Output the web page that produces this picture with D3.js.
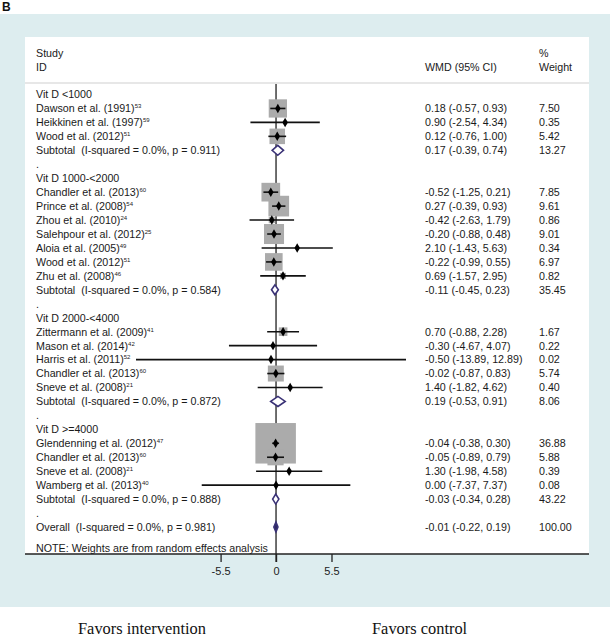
<!DOCTYPE html>
<html>
<head>
<meta charset="utf-8">
<script src="https://cdn.jsdelivr.net/npm/d3@7"></script>
<style>
  body { margin: 0; background: #fff; }
  svg text { white-space: pre; }
</style>
</head>
<body>
<svg id="chart" width="610" height="640"></svg>
<script>
// ---------------- data ----------------
const groupLabels = ["Vit D <1000", "Vit D 1000-<2000", "Vit D 2000-<4000", "Vit D >=4000"];

const studyNames = [
  "Dawson et al. (1991)", "Heikkinen et al. (1997)", "Wood et al. (2012)",
  "Chandler et al. (2013)", "Prince et al. (2008)", "Zhou et al. (2010)", "Salehpour et al. (2012)",
  "Aloia et al. (2005)", "Wood et al. (2012)", "Zhu et al. (2008)",
  "Zittermann et al. (2009)", "Mason et al. (2014)", "Harris et al. (2011)", "Chandler et al. (2013)", "Sneve et al. (2008)",
  "Glendenning et al. (2012)", "Chandler et al. (2013)", "Sneve et al. (2008)", "Wamberg et al. (2013)"
];
const studyRefs  = ["53","59","51", "60","54","24","25","49","51","46", "41","42","52","60","21", "47","60","21","40"];
const studyGroup = [0,0,0, 1,1,1,1,1,1,1, 2,2,2,2,2, 3,3,3,3];
const studyEst   = [0.18, 0.90, 0.12, -0.52, 0.27, -0.42, -0.20, 2.10, -0.22, 0.69, 0.70, -0.30, -0.50, -0.02, 1.40, -0.04, -0.05, 1.30, 0.00];
const studyLo    = [-0.57, -2.54, -0.76, -1.25, -0.39, -2.63, -0.88, -1.43, -0.99, -1.57, -0.88, -4.67, -13.89, -0.87, -1.82, -0.38, -0.89, -1.98, -7.37];
const studyHi    = [0.93, 4.34, 1.00, 0.21, 0.93, 1.79, 0.48, 5.63, 0.55, 2.95, 2.28, 4.07, 12.89, 0.83, 4.62, 0.30, 0.79, 4.58, 7.37];
const studyWeight= [7.50, 0.35, 5.42, 7.85, 9.61, 0.86, 9.01, 0.34, 6.97, 0.82, 1.67, 0.22, 0.02, 5.74, 0.40, 36.88, 5.88, 0.39, 0.08];

const subP      = ["0.911", "0.584", "0.872", "0.888"];
const subEst    = [0.17, -0.11, 0.19, -0.03];
const subLo     = [-0.39, -0.45, -0.53, -0.34];
const subHi     = [0.74, 0.23, 0.91, 0.28];
const subWeight = [13.27, 35.45, 8.06, 43.22];

const overallP = "0.981";
const overallEst = -0.01, overallLo = -0.22, overallHi = 0.19, overallWeight = 100.00;

const tickValues = [-5.5, 0, 5.5];
const noteText = "NOTE: Weights are from random effects analysis";

// ---------------- build rows ----------------
const fmt = v => d3.format(".2f")(v).replace("\u2212", "-");
const rows = [];
groupLabels.forEach((g, gi) => {
  rows.push({type: "group", label: g});
  studyNames.forEach((n, i) => {
    if (studyGroup[i] !== gi) return;
    rows.push({type: "study", label: n, ref: studyRefs[i], est: studyEst[i], lo: studyLo[i], hi: studyHi[i], w: studyWeight[i]});
  });
  rows.push({type: "sub", label: "Subtotal  (I-squared = 0.0%, p = " + subP[gi] + ")", est: subEst[gi], lo: subLo[gi], hi: subHi[gi], w: subWeight[gi]});
  rows.push({type: "dot", label: "."});
});
rows.push({type: "overall", label: "Overall  (I-squared = 0.0%, p = " + overallP + ")", est: overallEst, lo: overallLo, hi: overallHi, w: overallWeight});

// ---------------- layout ----------------
const svg = d3.select("#chart");
const W = 610, H = 640;
const panel = {x0: 25, x1: 589, y0: 37, y1: 554};
const fontMain = "'Liberation Sans', Arial, Helvetica, sans-serif";
const fs = 10.7;

const x = d3.scaleLinear().domain([-13.89, 12.89]).range([136, 406]);
const y = d3.scaleLinear().domain([0, rows.length - 1]).range([94.5, 527]);
const boxSide = d3.scaleSqrt().domain([0, 100]).range([0, 66.7]);

// background
svg.append("rect").attr("x", 0).attr("y", 14).attr("width", W).attr("height", 593).attr("fill", "#ddedef");
svg.append("rect").attr("x", panel.x0).attr("y", panel.y0).attr("width", panel.x1 - panel.x0).attr("height", panel.y1 - panel.y0).attr("fill", "#ffffff");

svg.append("text").attr("x", 2).attr("y", 11).text("B")
  .attr("font-family", fontMain).attr("font-weight", "bold").attr("font-size", 12).attr("fill", "#111");

// header
const hdr = svg.append("g").attr("font-family", fontMain).attr("font-size", fs).attr("fill", "#1a1a1a");
hdr.append("text").attr("x", 36).attr("y", 57).text("Study");
hdr.append("text").attr("x", 36).attr("y", 71).text("ID");
hdr.append("text").attr("x", 425).attr("y", 71).text("WMD (95% CI)");
hdr.append("text").attr("x", 539).attr("y", 57).text("%");
hdr.append("text").attr("x", 539).attr("y", 71).text("Weight");
svg.append("line").attr("x1", panel.x0).attr("x2", panel.x1).attr("y1", 83).attr("y2", 83)
  .attr("stroke", "#cfcfcf").attr("stroke-width", 1);

// zero line
svg.append("line").attr("x1", x(0)).attr("x2", x(0)).attr("y1", 84).attr("y2", 562)
  .attr("stroke", "#4a4a4a").attr("stroke-width", 1.6);

const effectRows = rows.map((r, i) => Object.assign({i}, r));
const studies = effectRows.filter(r => r.type === "study");
const diamonds = effectRows.filter(r => r.type === "sub" || r.type === "overall");

// boxes
svg.append("g").selectAll("rect").data(studies).join("rect")
  .attr("x", d => x(d.est) - boxSide(d.w) / 2)
  .attr("y", d => y(d.i) - boxSide(d.w) / 2)
  .attr("width", d => boxSide(d.w))
  .attr("height", d => boxSide(d.w))
  .attr("fill", "#ababab");

// CI lines
svg.append("g").selectAll("line").data(studies).join("line")
  .attr("x1", d => x(d.lo)).attr("x2", d => x(d.hi))
  .attr("y1", d => y(d.i)).attr("y2", d => y(d.i))
  .attr("stroke", "#111").attr("stroke-width", 1.6);

// point estimates
svg.append("g").selectAll("path").data(studies).join("path")
  .attr("d", d3.symbol(d3.symbolDiamond, 26))
  .attr("transform", d => `translate(${x(d.est)},${y(d.i)})`)
  .attr("fill", "#000");

// diamonds
svg.append("g").selectAll("path").data(diamonds).join("path")
  .attr("d", d => {
    const cy = y(d.i), h = 5;
    return `M${x(d.lo)},${cy} L${x(d.est)},${cy - h} L${x(d.hi)},${cy} L${x(d.est)},${cy + h} Z`;
  })
  .attr("fill", d => d.type === "overall" ? "#2f2a66" : "#fff")
  .attr("stroke", "#3a3276").attr("stroke-width", 1.6);

// left labels
const lab = svg.append("g").attr("font-family", fontMain).attr("font-size", fs).attr("fill", "#1a1a1a");
effectRows.forEach(r => {
  const t = lab.append("text").attr("x", 36).attr("y", y(r.i) + 3.9);
  t.append("tspan").text(r.label);
  if (r.ref) {
    t.append("tspan").attr("font-size", 6).attr("dy", -4).text(r.ref);
  }
});

// right columns
effectRows.filter(r => r.est !== undefined).forEach(r => {
  lab.append("text").attr("x", 425).attr("y", y(r.i) + 3.9)
    .text(`${fmt(r.est)} (${fmt(r.lo)}, ${fmt(r.hi)})`);
  lab.append("text").attr("x", 539).attr("y", y(r.i) + 3.9).text(fmt(r.w));
});

// note
lab.append("text").attr("x", 36).attr("y", 551.5).text(noteText);

// axis
svg.append("line").attr("x1", panel.x0).attr("x2", panel.x1).attr("y1", panel.y1).attr("y2", panel.y1)
  .attr("stroke", "#222").attr("stroke-width", 1.3);
const axis = svg.append("g").attr("transform", `translate(0,${panel.y1})`)
  .call(d3.axisBottom(x).tickValues(tickValues).tickSize(8).tickPadding(5).tickFormat(d => String(d)));
axis.select(".domain").remove();
axis.selectAll(".tick line").attr("stroke", "#222").attr("stroke-width", 1.3);
axis.selectAll(".tick text").attr("font-family", fontMain).attr("font-size", 11).attr("fill", "#222");

// favors labels
const fav = svg.append("g").attr("font-family", "'Liberation Serif', 'Times New Roman', serif").attr("font-size", 16.4).attr("fill", "#111");
fav.append("text").attr("x", 78).attr("y", 634).text("Favors intervention");
fav.append("text").attr("x", 372).attr("y", 634).text("Favors control");
</script>
</body>
</html>
